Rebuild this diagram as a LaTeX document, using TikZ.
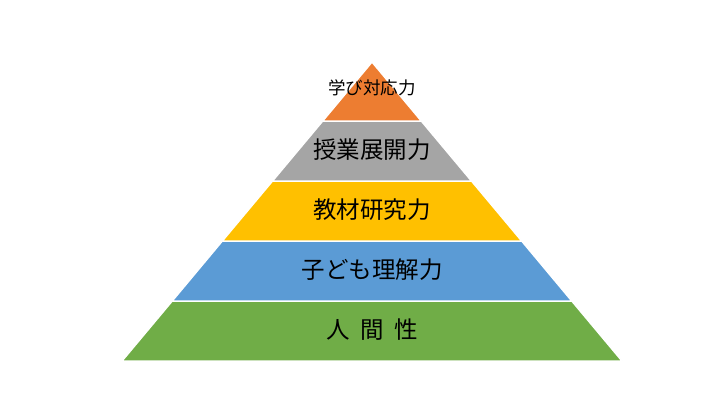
\documentclass[tikz,border=0pt]{standalone}
\usepackage{fontspec}
\newfontfamily\jpfont{Noto Sans CJK JP}
\usetikzlibrary{calc}
\definecolor{corange}{HTML}{ED7D31}
\definecolor{cgrey}{HTML}{A5A5A5}
\definecolor{cyellow}{HTML}{FFC000}
\definecolor{cblue}{HTML}{5B9BD5}
\definecolor{cgreen}{HTML}{70AD47}
\tikzset{
  every picture/.style={font=\jpfont},
  layer/.style={fill=#1, draw=white, line width=1.5pt, line join=miter},
  layer/.default=cgrey,
  lbl/.style={font=\jpfont\fontsize{23.5}{26}\selectfont, text=black, inner sep=0pt},
  toplbl/.style={font=\jpfont\fontsize{17.5}{20}\selectfont, text=black, inner sep=0pt},
}

\begin{document}
\begin{tikzpicture}[x=1pt, y=-1pt]
  \useasboundingbox (0,0) rectangle (720,405);
  \fill[white] (0,0) rectangle (720,405);
  % pyramid layers, bottom up
  \draw[layer=cgreen]  (172.2,301) -- (571.8,301) -- (622,361) -- (122,361) -- cycle;
  \draw[layer=cblue]   (222.3,241) -- (521.7,241) -- (571.8,301) -- (172.2,301) -- cycle;
  \draw[layer=cyellow] (272.5,181) -- (471.5,181) -- (521.7,241) -- (222.3,241) -- cycle;
  \draw[layer=cgrey]   (322.7,121) -- (421.3,121) -- (471.5,181) -- (272.5,181) -- cycle;
  \draw[layer=corange] (372,62) -- (421.3,121) -- (322.7,121) -- cycle;
  % labels
  \node[toplbl] (learn) at (372,88) {学び対応力};
  \node[lbl] (lesson) at (372,150) {授業展開力};
  \node[lbl] (study) at (372,210) {教材研究力};
  \node[lbl] (child) at (372,270) {子ども理解力};
  \node[lbl] (human) at (372,330) {人\hspace{0.45em}間\hspace{0.45em}性};
\end{tikzpicture}
\end{document}
